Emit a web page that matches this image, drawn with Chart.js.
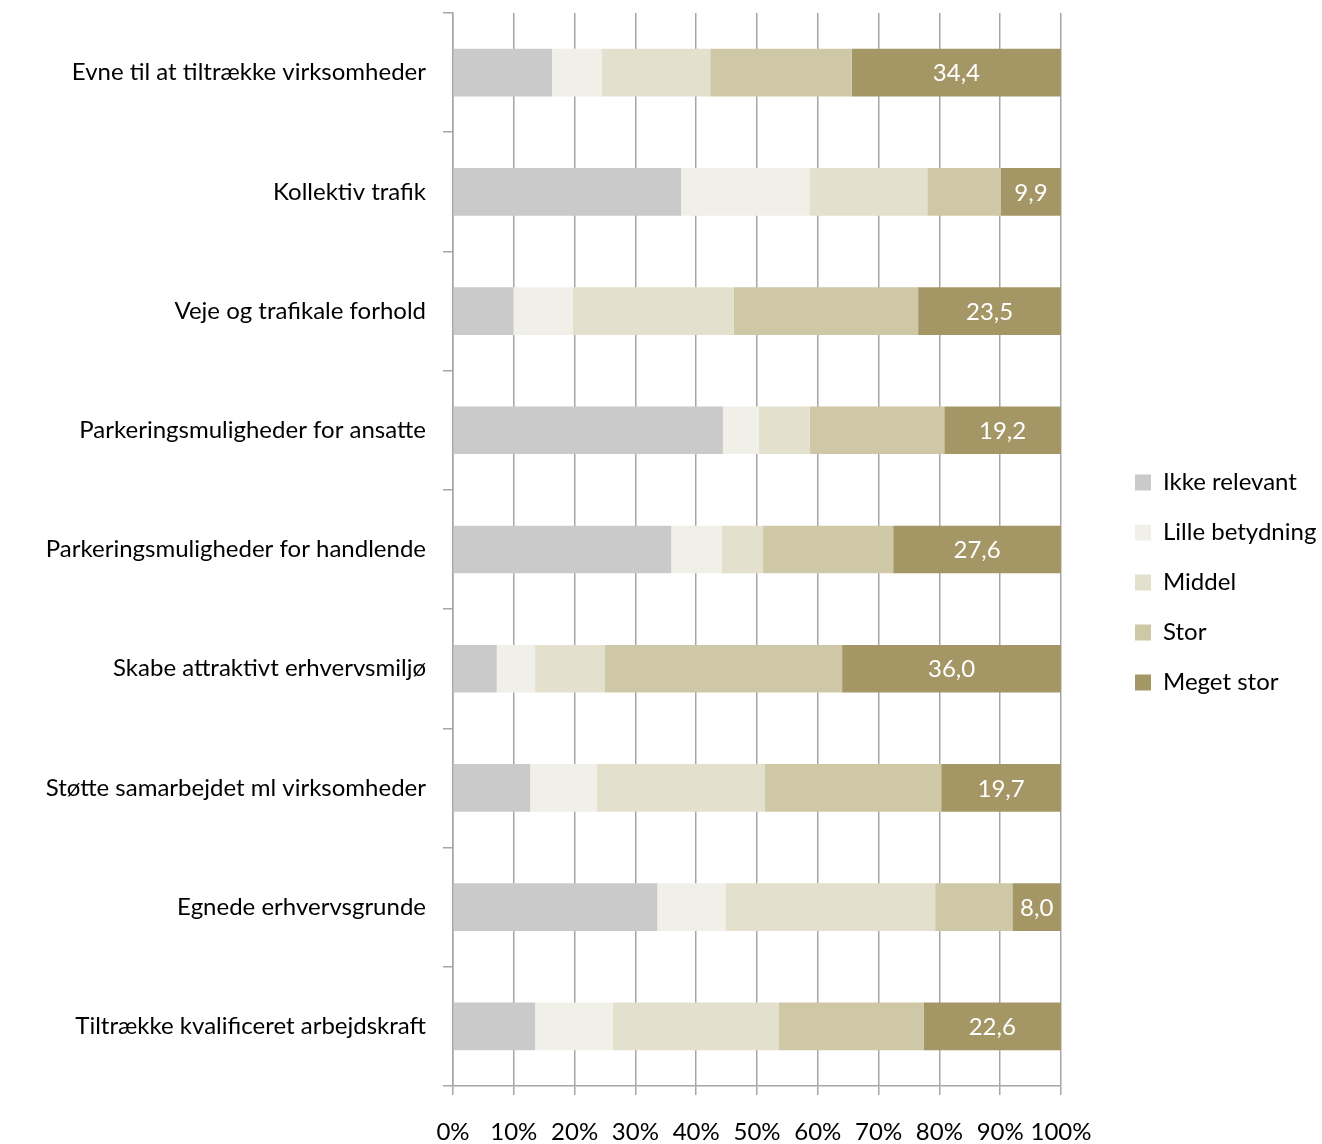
<!DOCTYPE html>
<html>
<head>
<meta charset="utf-8">
<script src="https://cdn.jsdelivr.net/npm/chart.js@4/dist/chart.umd.min.js"></script>
<style>
  html, body { margin: 0; padding: 0; background: #fff; }
  #wrap { width: 1322px; height: 1144px; }
</style>
</head>
<body>
<div id="wrap"><canvas id="myChart" width="1322" height="1144"></canvas></div>
<script>
var categories = [
  "Evne til at tiltrække virksomheder",
  "Kollektiv trafik",
  "Veje og trafikale forhold",
  "Parkeringsmuligheder for ansatte",
  "Parkeringsmuligheder for handlende",
  "Skabe attraktivt erhvervsmiljø",
  "Støtte samarbejdet ml virksomheder",
  "Egnede erhvervsgrunde",
  "Tiltrække kvalificeret arbejdskraft"
];
var ikkeRelevant = [16.3, 37.5, 9.9, 44.4, 35.9, 7.2, 12.7, 33.6, 13.5];
var lilleBetydning = [8.2, 21.1, 9.8, 5.9, 8.3, 6.3, 11.0, 11.3, 12.8];
var middel = [17.8, 19.4, 26.5, 8.4, 6.8, 11.5, 27.6, 34.4, 27.3];
var stor = [23.3, 12.1, 30.3, 22.1, 21.4, 39.0, 29.0, 12.7, 23.8];
var megetStor = [34.4, 9.9, 23.5, 19.2, 27.6, 36.0, 19.7, 8.0, 22.6];
var xTicks = ["0%", "10%", "20%", "30%", "40%", "50%", "60%", "70%", "80%", "90%", "100%"];

var font = "Lato, 'Open Sans', sans-serif";

// white value labels on the last series
var valueLabels = {
  id: 'valueLabels',
  afterDatasetsDraw: function(chart) {
    var ctx = chart.ctx;
    var meta = chart.getDatasetMeta(4);
    ctx.save();
    ctx.fillStyle = '#fff';
    ctx.font = '24px ' + font;
    ctx.textAlign = 'center';
    ctx.textBaseline = 'middle';
    meta.data.forEach(function(bar, i) {
      var cx = (bar.x + bar.base) / 2;
      ctx.fillText(megetStor[i].toFixed(1).replace('.', ','), cx, bar.y + 1);
    });
    ctx.restore();
  }
};

// legend: fixed width, items pushed a bit away from the plot
var legendPlace = {
  id: 'legendPlace',
  afterInit: function(chart) {
    var lg = chart.legend;
    var fit = lg.fit;
    lg.fit = function() {
      fit.call(this);
      this.width = 261;
    };
  },
  afterLayout: function(chart) {
    chart.legend.left += 48;
    chart.legend.right += 48;
    chart.legend.top += 4;
    chart.legend.bottom += 4;
  }
};

var ctx = document.getElementById("myChart").getContext('2d');
var myChart = new Chart(ctx, {
  type: 'bar',
  data: {
    labels: categories,
    datasets: [
      { label: "Ikke relevant", data: ikkeRelevant, backgroundColor: "#CACACA" },
      { label: "Lille betydning", data: lilleBetydning, backgroundColor: "#F0F0E8" },
      { label: "Middel", data: middel, backgroundColor: "#E3E0CD" },
      { label: "Stor", data: stor, backgroundColor: "#CEC8A6" },
      { label: "Meget stor", data: megetStor, backgroundColor: "#A49765" }
    ]
  },
  plugins: [valueLabels, legendPlace],
  options: {
    indexAxis: 'y',
    responsive: false,
    animation: false,
    categoryPercentage: 1,
    barPercentage: 0.4,
    layout: { padding: { top: 13, right: 0, bottom: 0, left: 0 } },
    plugins: {
      tooltip: { enabled: false },
      legend: {
        position: 'right',
        labels: {
          font: { family: font, size: 24 },
          color: '#000',
          boxWidth: 16,
          boxHeight: 16,
          padding: 26
        }
      }
    },
    scales: {
      x: {
        stacked: true,
        min: 0,
        max: 100,
        afterFit: function(s) {
          s.height = 58;
          s.paddingLeft = 0;
          s.paddingRight = 0;
        },
        ticks: {
          stepSize: 10,
          autoSkip: false,
          color: '#000',
          font: { family: font, size: 24 },
          padding: 23,
          maxRotation: 0,
          callback: function(v, i) { return xTicks[i]; }
        },
        grid: { color: '#A6A6A6', lineWidth: 1.5, tickLength: 9 },
        border: { color: '#A6A6A6', width: 1.5 }
      },
      y: {
        stacked: true,
        afterFit: function(s) {
          s.width = 453;
          s.paddingTop = 0;
          s.paddingBottom = 0;
        },
        ticks: {
          color: '#000',
          font: { family: font, size: 24 },
          padding: 17
        },
        grid: { offset: true, drawOnChartArea: false, color: '#A6A6A6', lineWidth: 1.5, tickLength: 10 },
        border: { color: '#A6A6A6', width: 1.5 }
      }
    }
  }
});
</script>
</body>
</html>
